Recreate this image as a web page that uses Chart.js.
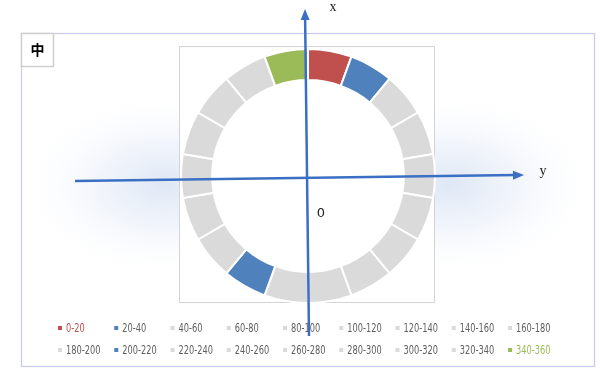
<!DOCTYPE html>
<html>
<head>
<meta charset="utf-8">
<script src="https://cdn.jsdelivr.net/npm/chart.js@4/dist/chart.umd.min.js"></script>
<style>
  html, body { margin: 0; padding: 0; background: #fff; }
  #wrap { width: 600px; height: 374px; }
</style>
</head>
<body>
<div id="wrap"><canvas id="ring" width="600" height="374"></canvas></div>
<script>
CATEGORIES = ['0-20', '20-40', '40-60', '60-80', '80-100', '100-120', '120-140', '140-160', '160-180',
              '180-200', '200-220', '220-240', '240-260', '260-280', '280-300', '300-320', '320-340', '340-360']
VALUES = [20, 20, 20, 20, 20, 20, 20, 20, 20, 20, 20, 20, 20, 20, 20, 20, 20, 20]
HIGHLIGHT = { '0-20': '#c0504d', '20-40': '#4f81bd', '200-220': '#4f81bd', '340-360': '#9bbb59' }
TEXT_COLOR = { '0-20': '#c0504d', '340-360': '#9bbb59' }

GRAY = '#dadada'
AXIS = '#3a6fc4'

function segColors()
{
    return CATEGORIES.map(c => HIGHLIGHT[c] || GRAY)
}

function arrow(ctx, x1, y1, x2, y2)
{
    var a = Math.atan2(y2 - y1, x2 - x1)
    ctx.strokeStyle = AXIS
    ctx.fillStyle = AXIS
    ctx.lineWidth = 2.5
    ctx.beginPath()
    ctx.moveTo(x1, y1)
    ctx.lineTo(x2 - 8 * Math.cos(a), y2 - 8 * Math.sin(a))
    ctx.stroke()
    ctx.beginPath()
    ctx.moveTo(x2, y2)
    ctx.lineTo(x2 - 11 * Math.cos(a) + 4.5 * Math.sin(a), y2 - 11 * Math.sin(a) - 4.5 * Math.cos(a))
    ctx.lineTo(x2 - 11 * Math.cos(a) - 4.5 * Math.sin(a), y2 - 11 * Math.sin(a) + 4.5 * Math.cos(a))
    ctx.closePath()
    ctx.fill()
}

function glow(ctx, cx, cy, rx, ry)
{
    ctx.save()
    ctx.translate(cx, cy)
    ctx.scale(rx / ry, 1)
    var g = ctx.createRadialGradient(0, 0, 0, 0, 0, ry)
    g.addColorStop(0, 'rgba(190,208,236,0.5)')
    g.addColorStop(0.45, 'rgba(210,222,242,0.3)')
    g.addColorStop(1, 'rgba(255,255,255,0)')
    ctx.fillStyle = g
    ctx.fillRect(-ry, -ry, 2 * ry, 2 * ry)
    ctx.restore()
}

const backdrop = {
    id: 'backdrop',
    beforeDraw(chart) {
        var ctx = chart.ctx
        ctx.save()
        ctx.fillStyle = '#fff'
        ctx.fillRect(0, 0, 600, 374)
        // soft blue glow behind the horizontal axis
        ctx.beginPath()
        ctx.rect(22, 34, 571, 331)
        ctx.clip()
        glow(ctx, 165, 185, 150, 95)
        glow(ctx, 450, 185, 150, 95)
        ctx.restore()

        ctx.save()
        // outer frame
        ctx.strokeStyle = '#c9c9ef'
        ctx.lineWidth = 1.2
        ctx.strokeRect(21.5, 33.5, 573, 333)
        // inner plot box
        ctx.fillStyle = '#fff'
        ctx.fillRect(179.5, 46.5, 255, 256)
        ctx.strokeStyle = '#d4d4d4'
        ctx.lineWidth = 1
        ctx.strokeRect(179.5, 46.5, 255, 256)
        // small label box
        ctx.fillStyle = '#fff'
        ctx.fillRect(21.5, 33.5, 32, 33)
        ctx.strokeStyle = '#cfcfcf'
        ctx.lineWidth = 1.5
        ctx.strokeRect(21.5, 33.5, 32, 33)
        ctx.fillStyle = '#000'
        ctx.font = 'bold 14px "Noto Sans CJK SC"'
        ctx.textAlign = 'center'
        ctx.textBaseline = 'middle'
        ctx.fillText('中', 37.5, 50)
        ctx.restore()
    }
}

const overlay = {
    id: 'overlay',
    afterDraw(chart) {
        var ctx = chart.ctx
        ctx.save()
        arrow(ctx, 75, 181, 524, 175)
        arrow(ctx, 309, 336, 305, 9)

        ctx.fillStyle = '#222'
        ctx.textAlign = 'center'
        ctx.textBaseline = 'middle'
        ctx.font = '14px "Liberation Serif"'
        ctx.fillText('x', 333, 7)
        ctx.fillText('y', 543, 171)
        ctx.font = '13px "DejaVu Sans"'
        ctx.fillText('0', 321, 214)

        // legend in a 9 column grid
        var colors = segColors()
        ctx.textAlign = 'left'
        ctx.font = '12.5px "DejaVu Sans"'
        CATEGORIES.forEach((c, i) => {
            var x = 60 + (i % 9) * 56.25
            var y = 328 + Math.floor(i / 9) * 22
            ctx.fillStyle = colors[i]
            ctx.fillRect(x - 2, y - 2, 4, 4)
            ctx.save()
            ctx.translate(x + 6, y)
            ctx.scale(0.66, 1)
            ctx.fillStyle = TEXT_COLOR[c] || '#5f5f5f'
            ctx.fillText(c, 0, 0.5)
            ctx.restore()
        })
        ctx.restore()
    }
}

new Chart('ring', {
    type: 'doughnut',
    data: {
        labels: CATEGORIES,
        datasets: [{
            data: VALUES,
            backgroundColor: segColors(),
            borderColor: '#fff',
            borderWidth: 2,
            hoverOffset: 0
        }]
    },
    options: {
        responsive: false,
        animation: false,
        cutout: '75.5%',
        rotation: 0,
        layout: { padding: { left: 180, top: 48, right: 164, bottom: 70 } },
        plugins: {
            legend: { display: false },
            tooltip: { enabled: false }
        }
    },
    plugins: [backdrop, overlay]
});
</script>
</body>
</html>
